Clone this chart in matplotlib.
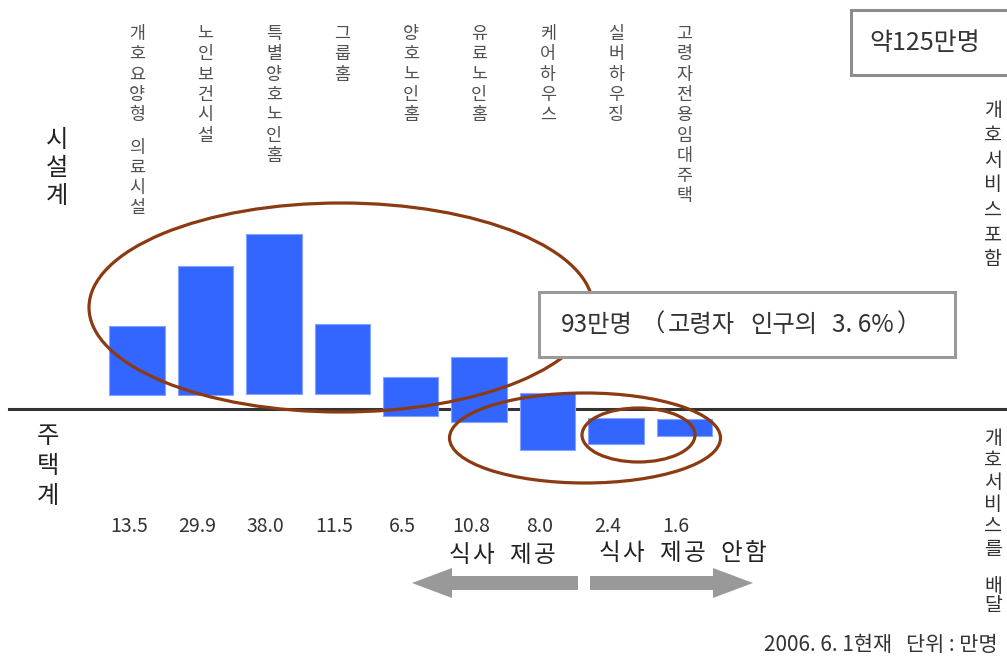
import matplotlib
matplotlib.use('Agg')
import matplotlib.pyplot as plt
from matplotlib.patches import Ellipse, Rectangle, FancyArrow

# ---------------- data ----------------
categories = ['개호요양형 의료시설', '노인보건시설', '특별양호노인홈', '그룹홈', '양호노인홈',
              '유료노인홈', '케어하우스', '실버하우징', '고령자전용임대주택']
values = [13.5, 29.9, 38.0, 11.5, 6.5, 10.8, 8.0, 2.4, 1.6]
value_labels = ['13.5', '29.9', '38.0', '11.5', '6.5', '10.8', '8.0', '2.4', '1.6']
# floating bar extents relative to the baseline (chart units)
bar_top = [8.3, 14.3, 17.5, 8.5, 3.2, 5.2, 1.6, -0.9, -1.0]
bar_bottom = [1.4, 1.4, 1.5, 1.5, -0.7, -1.3, -4.1, -3.5, -2.7]

KR = ['Noto Sans CJK KR', 'DejaVu Sans']
NUM = ['Liberation Sans Narrow', 'Noto Sans CJK KR', 'DejaVu Sans']
plt.rcParams['font.family'] = KR

W, H = 1007, 659
fig = plt.figure(figsize=(W / 100, H / 100), dpi=100)
fig.patch.set_facecolor('white')

# main axes: x = category index, y = chart units (baseline 0)
ax = fig.add_axes([0, 0, 1, 1])
X0, XSTEP, Y0, YSCALE = 137.0, 68.44, 409.0, 10.0
ax.set_xlim((0 - X0) / XSTEP, (W - X0) / XSTEP)
ax.set_ylim((Y0 - H) / YSCALE, Y0 / YSCALE)
ax.axis('off')

def ydat(py):
    return (Y0 - py) / YSCALE

xs = list(range(len(categories)))
heights = [t - b for t, b in zip(bar_top, bar_bottom)]
ax.bar(xs, heights, bottom=bar_bottom, width=0.81, color='#3366ff',
       edgecolor='#86a2ff', linewidth=0.8, zorder=2)
ax.axhline(0, xmin=9 / W, xmax=1, color='#333333', linewidth=2.2, zorder=1)

# vertical category labels
for i, name in enumerate(categories):
    py = 34.0
    for ch in name:
        if ch == ' ':
            py += 12
            continue
        ax.text(i, ydat(py), ch, ha='center', va='center', fontsize=12.5,
                color='#505050', family=KR)
        py += 20.3

# value labels
for i, lab in enumerate(value_labels):
    ax.text(i - 0.12, ydat(527), lab, ha='center', va='center', fontsize=14,
            color='#333333', family=NUM)

# annotation axes in pixel coordinates
ann = fig.add_axes([0, 0, 1, 1])
ann.set_xlim(0, W)
ann.set_ylim(H, 0)
ann.axis('off')
ann.patch.set_alpha(0)

def vtext(x, y0, s, step, size, color='#333333', weight='normal'):
    py = y0
    for ch in s:
        if ch == ' ':
            py += step * 0.6
            continue
        ann.text(x, py, ch, ha='center', va='center', fontsize=size, color=color,
                 fontweight=weight, family=KR)
        py += step

def htext(x, y, s, step, size, color='#333333', weight='normal'):
    # text with even character spacing; x = centre of first character
    px = x
    for ch in s:
        if ch != ' ':
            ann.text(px, y, ch, ha='center', va='center', fontsize=size, color=color,
                     fontweight=weight, family=KR)
        px += step if ch != ' ' else step * 0.5

vtext(57, 140, '시설계', 28, 17.5, color='#222222')
vtext(48, 436, '주택계', 30, 17.5, color='#222222')
vtext(993, 110, '개호서비스포함', 25, 14)
vtext(993, 438, '개호서비스를', 22.2, 14)
vtext(993, 586, '배달', 20, 14)

# ellipses
ecol = '#8b3a12'
ann.add_patch(Ellipse((341, 307.5), 504, 209, fill=False, edgecolor=ecol, lw=2.3))
ann.add_patch(Ellipse((585, 438), 271, 90, fill=False, edgecolor=ecol, lw=2.3))
ann.add_patch(Ellipse((638.5, 435), 113, 54, fill=False, edgecolor=ecol, lw=2.3))

# boxes
ann.add_patch(Rectangle((539, 292), 416, 65, facecolor='white', edgecolor='#999999', lw=2.2))
for px, piece in [(561, '93만명'), (640, '（'), (668, '고령자'), (750, '인구의'),
                  (832, '3. 6%'), (897, '）')]:
    ann.text(px, 325, piece, ha='left', va='center', fontsize=17.5,
             color='#333333', family=NUM[1:])
ann.add_patch(Rectangle((851, 10), 170, 65, facecolor='white', edgecolor='#8c8c8c', lw=2.2))
ann.text(869, 43, '약125만명', ha='left', va='center', fontsize=18, color='#333333')

# arrows
acol = '#999999'
ann.add_patch(FancyArrow(578, 583, -126, 0, width=14, head_width=30, head_length=40,
                         length_includes_head=False, color=acol, lw=0))
ann.add_patch(FancyArrow(590, 583, 123, 0, width=14, head_width=30, head_length=40,
                         length_includes_head=False, color=acol, lw=0))
htext(459, 556, '식사 제공', 24.5, 17, color='#222222')
htext(609, 554, '식사 제공 안함', 24.5, 17, color='#222222')

ann.text(998, 645, '2006. 6. 1현재   단위 : 만명', ha='right', va='center', fontsize=15,
         color='#333333', family=NUM)

fig.savefig('out.png', dpi=100, facecolor='white')
